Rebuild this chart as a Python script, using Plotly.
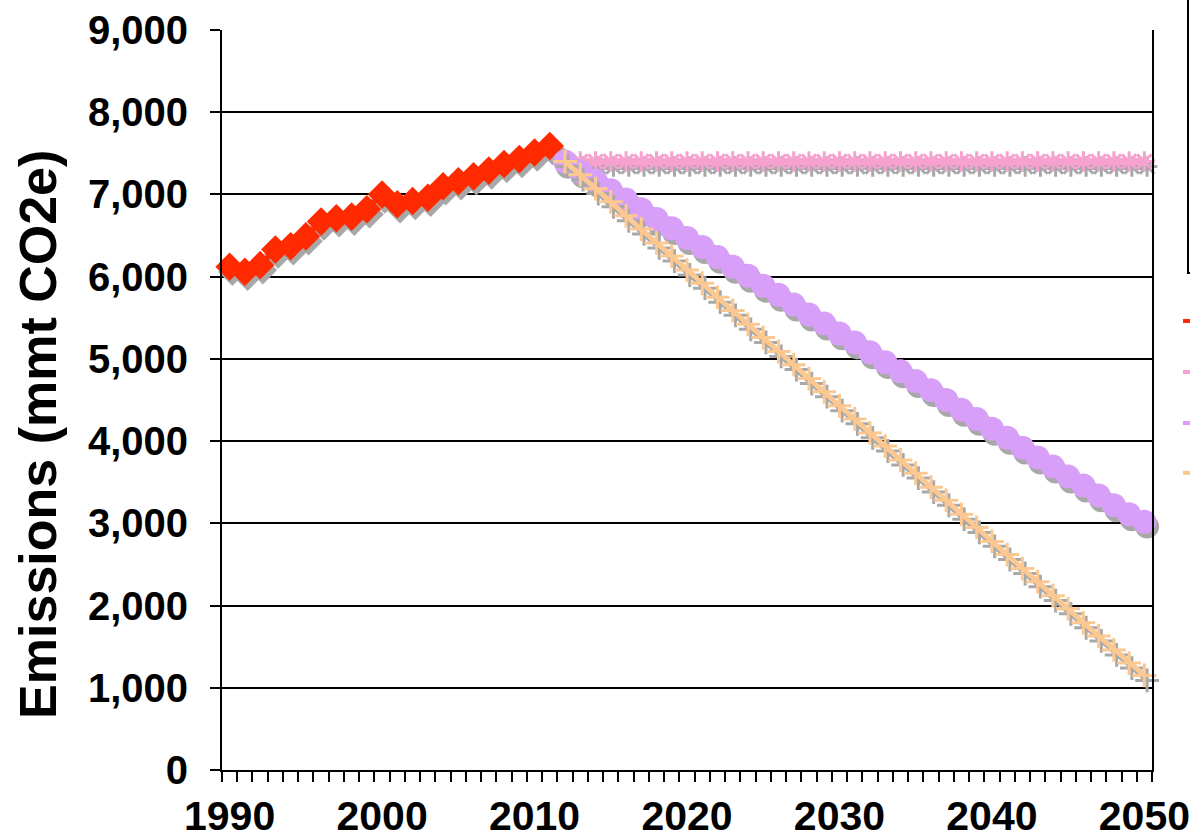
import plotly.graph_objects as go

# ---- data ----
years_hist = [1990, 1991, 1992, 1993, 1994, 1995, 1996, 1997, 1998, 1999, 2000,
              2001, 2002, 2003, 2004, 2005, 2006, 2007, 2008, 2009, 2010, 2011]
historical = [6120, 6060, 6140, 6330, 6370, 6490, 6670, 6710, 6730, 6820, 7000,
              6880, 6920, 6960, 7100, 7160, 7220, 7290, 7370, 7430, 7510, 7590]

years_proj = [2012, 2013, 2014, 2015, 2016, 2017, 2018, 2019, 2020, 2021,
              2022, 2023, 2024, 2025, 2026, 2027, 2028, 2029, 2030, 2031,
              2032, 2033, 2034, 2035, 2036, 2037, 2038, 2039, 2040, 2041,
              2042, 2043, 2044, 2045, 2046, 2047, 2048, 2049, 2050]
bau = [7400, 7400, 7400, 7400, 7400, 7400, 7400, 7400, 7400, 7400,
       7400, 7400, 7400, 7400, 7400, 7400, 7400, 7400, 7400, 7400,
       7400, 7400, 7400, 7400, 7400, 7400, 7400, 7400, 7400, 7400,
       7400, 7400, 7400, 7400, 7400, 7400, 7400, 7400, 7400]
path_a = [7400, 7280, 7170, 7050, 6940, 6820, 6700, 6590, 6470, 6360,
          6240, 6120, 6010, 5890, 5780, 5660, 5540, 5430, 5310, 5200,
          5080, 4960, 4850, 4730, 4620, 4500, 4380, 4270, 4150, 4040,
          3920, 3800, 3690, 3570, 3460, 3340, 3220, 3110, 3020]
path_b = [7400, 7240, 7070, 6910, 6740, 6580, 6410, 6250, 6080, 5920,
          5750, 5590, 5420, 5260, 5090, 4930, 4760, 4600, 4430, 4270,
          4100, 3940, 3770, 3610, 3440, 3280, 3110, 2950, 2780, 2620,
          2450, 2290, 2120, 1960, 1790, 1630, 1460, 1300, 1150]

y_ticks = [0, 1000, 2000, 3000, 4000, 5000, 6000, 7000, 8000, 9000]
x_labels = [1990, 2000, 2010, 2020, 2030, 2040, 2050]

RED = "#ff2a00"
PINK = "#f7a1cf"
PURPLE = "#d79ff7"
ORANGE = "#fcc892"
SHADOW = "#a8a8a8"

DX, DY = 0.18, -60  # drop-shadow offset

fig = go.Figure()


def add_series(x, y, color, symbol, size, line_w, open_marker=False, mk_w=3):
    sx = [v + DX for v in x]
    sy = [v + DY for v in y]
    if open_marker:
        mk_s = dict(symbol=symbol, size=size, color=SHADOW, line=dict(color=SHADOW, width=mk_w))
        mk = dict(symbol=symbol, size=size, color=color, line=dict(color=color, width=mk_w))
    else:
        mk_s = dict(symbol=symbol, size=size, color=SHADOW, line=dict(width=0))
        mk = dict(symbol=symbol, size=size, color=color, line=dict(width=0))
    fig.add_trace(go.Scatter(x=sx, y=sy, mode="lines+markers",
                             line=dict(color=SHADOW, width=line_w), marker=mk_s,
                             showlegend=False, hoverinfo="skip", cliponaxis=False))
    fig.add_trace(go.Scatter(x=x, y=y, mode="lines+markers",
                             line=dict(color=color, width=line_w), marker=mk,
                             showlegend=False, cliponaxis=False))


add_series(years_hist, historical, RED, "diamond", 22, 5)
add_series(years_proj, bau, PINK, "asterisk-open", 17, 7, open_marker=True, mk_w=3)
add_series(years_proj, path_a, PURPLE, "circle", 24, 5)
add_series(years_proj, path_b, ORANGE, "cross-thin-open", 17, 5, open_marker=True, mk_w=3)

FONT = "Liberation Sans, Arial, Helvetica, sans-serif"

fig.update_layout(
    width=1190, height=838,
    margin=dict(l=222, r=38, t=30, b=68, autoexpand=False),
    paper_bgcolor="white", plot_bgcolor="white",
    showlegend=False,
    font=dict(family=FONT, color="black"),
    xaxis=dict(
        range=[1989.5, 2050.5], automargin=False,
        tickmode="array", tickvals=x_labels, ticktext=[str(v) for v in x_labels],
        ticks="", showgrid=False, zeroline=False,
        showline=True, linecolor="black", linewidth=2,
        tickfont=dict(family=FONT, size=41, color="black", weight="bold"),
        ticklabelstandoff=9, ticklabeloverflow="allow",
        minor=dict(tickmode="linear", tick0=1989.5, dtick=1, ticks="outside",
                   ticklen=10, tickwidth=2, tickcolor="black", showgrid=False),
    ),
    yaxis=dict(
        range=[0, 9000], automargin=False, tickmode="array", tickvals=y_ticks,
        ticktext=[f"{v:,}" for v in y_ticks],
        ticks="outside", ticklen=10, tickwidth=2, tickcolor="black",
        showgrid=True, gridcolor="black", gridwidth=2,
        zeroline=False, showline=True, linecolor="black", linewidth=2, mirror=True,
        tickfont=dict(family=FONT, size=40, color="black", weight="bold"),
        ticklabelstandoff=14, ticklabeloverflow="allow",
    ),
)

# y-axis title
fig.add_annotation(text="Emissions (mmt CO2e)", textangle=-90,
                   xref="paper", yref="paper", x=-0.198, y=0.454,
                   xanchor="center", yanchor="middle", showarrow=False,
                   font=dict(family=FONT, size=52, color="black", weight="bold"))

# cropped legend box and legend swatches at the right edge
fig.add_shape(type="rect", xref="paper", yref="paper",
              x0=1.0387, x1=1.12, y0=0.6716, y1=1.06,
              line=dict(color="black", width=2), fillcolor="rgba(0,0,0,0)", layer="above")
for yy, col in [(0.6068, RED), (0.5378, PINK), (0.4689, PURPLE), (0.4014, ORANGE)]:
    fig.add_shape(type="line", xref="paper", yref="paper",
                  x0=1.0333, x1=1.045, y0=yy, y1=yy,
                  line=dict(color=col, width=4), layer="above")

fig.write_html("out.html",
               config={"displayModeBar": False},
               post_script="document.body.style.margin='0';"
                           "document.body.style.overflow='hidden';")
